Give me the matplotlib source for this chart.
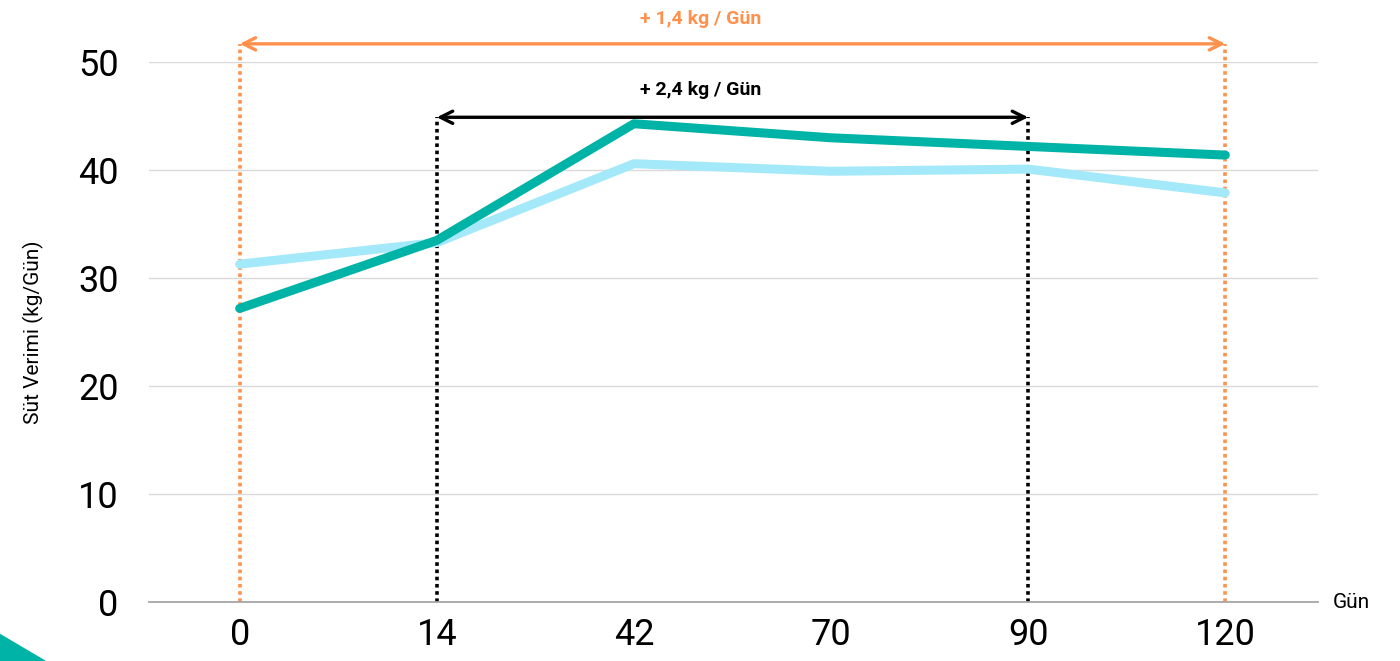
import matplotlib
matplotlib.use("Agg")
import matplotlib.pyplot as plt
from matplotlib.patches import Polygon

days = ["0", "14", "42", "70", "90", "120"]
dark_series = [27.2, 33.5, 44.3, 43.0, 42.2, 41.4]
light_series = [31.3, 33.3, 40.6, 39.9, 40.1, 37.9]
y_ticks = [0, 10, 20, 30, 40, 50]

outer_span = ("0", "120", 51.7, "+ 1,4 kg / Gün")
inner_span = ("14", "90", 44.9, "+ 2,4 kg / Gün")

TEAL = "#00b3a7"
LIGHT = "#a4e9f9"
ORANGE = "#ff914d"

plt.rcParams['font.family'] = ['Liberation Sans Narrow', 'Roboto', 'DejaVu Sans']

fig = plt.figure(figsize=(14, 6.61), dpi=100)
ax = fig.add_axes([0.1064, 0.089, 0.835, 0.8169])

x = list(range(len(days)))
ax.plot(x, light_series, color=LIGHT, lw=6.5, solid_capstyle="round", zorder=3)
ax.plot(x, dark_series, color=TEAL, lw=6.5, solid_capstyle="round", zorder=4)

def span(start, end, y, label, color, text_y):
    i0, i1 = days.index(start), days.index(end)
    for i in (i0, i1):
        ax.plot([i, i], [0, y], color=color, lw=2.6, ls=(0, (1, 1)),
                zorder=2, clip_on=False)
    ax.annotate("", xy=(i1, y), xytext=(i0, y), annotation_clip=False,
                arrowprops=dict(arrowstyle="<->", color=color, lw=2.4,
                                mutation_scale=22, shrinkA=0, shrinkB=0),
                zorder=5)
    ax.text(2.34, text_y, label, color=color, fontsize=14, fontweight="bold",
            ha="center", va="center", zorder=5, clip_on=False)

span(*outer_span[:3], outer_span[3], ORANGE, 54.0)
span(*inner_span[:3], inner_span[3], "black", 47.4)

ax.set_xlim(-0.46, 5.47)
ax.set_ylim(0, 50)
ax.set_xticks(x)
ax.set_xticklabels(days)
ax.set_yticks(y_ticks)
ax.tick_params(axis="both", length=0, labelsize=26, colors="black")
ax.tick_params(axis="x", pad=11)
ax.tick_params(axis="y", pad=22)
ax.grid(axis="y", color="#d9d9d9", lw=1)
ax.set_axisbelow(True)
for s in ["top", "right", "left"]:
    ax.spines[s].set_visible(False)
ax.spines["bottom"].set_color("#a6a6a6")
ax.spines["bottom"].set_linewidth(1.3)

ax.set_ylabel("Süt Verimi (kg/Gün)", fontsize=15)
ax.yaxis.set_label_coords(-0.09, 0.5)
fig.text(0.952, 0.089, "Gün", fontsize=15, ha="left", va="center")

fig.patches.append(Polygon([[0, 0.04], [0.032, 0], [0, 0]], closed=True,
                           transform=fig.transFigure, color=TEAL))

fig.savefig("out.png", dpi=100)
